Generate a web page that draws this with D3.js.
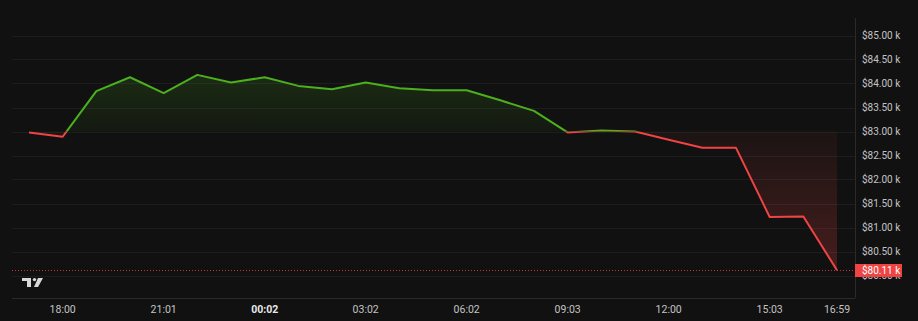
<!DOCTYPE html>
<html>
<head>
<meta charset="utf-8">
<script src="https://cdn.jsdelivr.net/npm/d3@7"></script>
<style>
  body { margin: 0; background: #111111; }
  svg { display: block; font-family: Roboto, "Noto Sans", sans-serif; }
</style>
</head>
<body>
<svg id="chart"></svg>
<script>
WIDTH = 918;
HEIGHT = 321;

// hourly points, 17:00 -> 16:59 next day
var times = ["17:00", "18:00", "19:00", "20:00", "21:01", "22:01", "23:01", "00:02",
             "01:02", "02:02", "03:02", "04:02", "05:02", "06:02", "07:02", "08:02",
             "09:03", "10:03", "11:03", "12:00", "13:00", "14:00", "15:03", "16:03", "16:59"];
var prices = [82.98, 82.89, 83.84, 84.13, 83.80, 84.18, 84.02, 84.13,
              83.95, 83.88, 84.02, 83.90, 83.86, 83.86, 83.65, 83.43,
              82.98, 83.02, 83.00, 82.83, 82.66, 82.66, 81.22, 81.23, 80.11];
var baseValue = 83.00;
var tickIndex = [1, 4, 7, 10, 13, 16, 19, 22, 24];
var priceTicks = [80.0, 80.5, 81.0, 81.5, 82.0, 82.5, 83.0, 83.5, 84.0, 84.5, 85.0];
var lastLabel = "$80.11 k";

var GREEN = "#4caf1e", RED = "#ef4444";
var PANE = { left: 12, right: 855, top: 18, bottom: 298 };

function buildChart() {
    var svg = d3.select("#chart").attr("width", WIDTH).attr("height", HEIGHT);
    svg.append("rect").attr("width", WIDTH).attr("height", HEIGHT).attr("fill", "#111111");

    var data = prices.map(function(p, i) { return { i: i, t: times[i], v: p }; });

    var x = d3.scaleLinear().domain([0, prices.length - 1]).range([29, 837]);
    var y = d3.scaleLinear().domain([80, 85]).range([275.5, 35.5]);
    var yBase = y(baseValue);

    var defs = svg.append("defs");
    var gG = defs.append("linearGradient").attr("id", "gFill")
        .attr("gradientUnits", "userSpaceOnUse")
        .attr("x1", 0).attr("x2", 0).attr("y1", y(d3.max(prices))).attr("y2", yBase);
    gG.append("stop").attr("offset", 0).attr("stop-color", GREEN).attr("stop-opacity", 0.17);
    gG.append("stop").attr("offset", 1).attr("stop-color", GREEN).attr("stop-opacity", 0.05);
    var rG = defs.append("linearGradient").attr("id", "rFill")
        .attr("gradientUnits", "userSpaceOnUse")
        .attr("x1", 0).attr("x2", 0).attr("y1", yBase).attr("y2", y(d3.min(prices)));
    rG.append("stop").attr("offset", 0).attr("stop-color", RED).attr("stop-opacity", 0.05);
    rG.append("stop").attr("offset", 1).attr("stop-color", RED).attr("stop-opacity", 0.24);

    defs.append("clipPath").attr("id", "above").append("rect")
        .attr("x", 0).attr("y", 0).attr("width", WIDTH).attr("height", yBase);
    defs.append("clipPath").attr("id", "below").append("rect")
        .attr("x", 0).attr("y", yBase).attr("width", WIDTH).attr("height", HEIGHT - yBase);

    // grid
    svg.append("g").selectAll("line")
        .data(priceTicks)
        .enter().append("line")
        .attr("x1", PANE.left).attr("x2", PANE.right)
        .attr("y1", function(d) { return Math.round(y(d)) + 0.5; })
        .attr("y2", function(d) { return Math.round(y(d)) + 0.5; })
        .attr("stroke", "#1d1d1d").attr("stroke-width", 1);

    // borders
    svg.append("line").attr("x1", PANE.right + 0.5).attr("x2", PANE.right + 0.5)
        .attr("y1", PANE.top).attr("y2", PANE.bottom).attr("stroke", "#2a2a2a");
    svg.append("line").attr("x1", PANE.left).attr("x2", PANE.right)
        .attr("y1", PANE.bottom + 0.5).attr("y2", PANE.bottom + 0.5).attr("stroke", "#2a2a2a");

    var area = d3.area()
        .x(function(d) { return x(d.i); })
        .y0(yBase)
        .y1(function(d) { return y(d.v); });
    var line = d3.line()
        .x(function(d) { return x(d.i); })
        .y(function(d) { return y(d.v); });

    svg.append("path").datum(data).attr("d", area)
        .attr("fill", "url(#gFill)").attr("clip-path", "url(#above)");
    svg.append("path").datum(data).attr("d", area)
        .attr("fill", "url(#rFill)").attr("clip-path", "url(#below)");

    // last price dotted line
    var yLast = Math.round(y(prices[prices.length - 1])) + 0.5;
    svg.append("line").attr("x1", PANE.left).attr("x2", PANE.right)
        .attr("y1", yLast).attr("y2", yLast)
        .attr("stroke", RED).attr("stroke-opacity", 0.8)
        .attr("stroke-dasharray", "1,2");

    svg.append("path").datum(data).attr("d", line)
        .attr("fill", "none").attr("stroke", GREEN).attr("stroke-width", 2)
        .attr("stroke-linejoin", "round").attr("clip-path", "url(#above)");
    svg.append("path").datum(data).attr("d", line)
        .attr("fill", "none").attr("stroke", RED).attr("stroke-width", 2)
        .attr("stroke-linejoin", "round").attr("clip-path", "url(#below)");

    // price scale
    svg.append("g").selectAll("text")
        .data(priceTicks)
        .enter().append("text")
        .attr("x", 862)
        .attr("y", function(d) { return y(d); })
        .attr("dy", "0.35em")
        .attr("font-size", 10)
        .attr("fill", "#c4c4c4")
        .text(function(d) { return "$" + d3.format(".2f")(d) + " k"; });

    svg.append("rect").attr("x", PANE.right).attr("y", yLast - 6.5)
        .attr("width", 47).attr("height", 13).attr("fill", RED);
    svg.append("text").attr("x", 862).attr("y", yLast).attr("dy", "0.35em")
        .attr("font-size", 10).attr("fill", "#ffffff").text(lastLabel);

    // time scale
    svg.append("g").selectAll("text")
        .data(tickIndex)
        .enter().append("text")
        .attr("x", function(d) { return x(d); })
        .attr("y", 309)
        .attr("dy", "0.35em")
        .attr("text-anchor", "middle")
        .attr("font-size", 10.5)
        .attr("font-weight", function(d) { return times[d] === "00:02" ? "bold" : "normal"; })
        .attr("fill", function(d) { return times[d] === "00:02" ? "#e8e8e8" : "#c4c4c4"; })
        .text(function(d) { return times[d]; });

    // logo
    var logo = svg.append("g").attr("fill", "#d8d8d8");
    logo.append("path").attr("d", "M22,278 h9 v9 h-4 v-6 h-5 z");
    logo.append("circle").attr("cx", 34.5).attr("cy", 279.6).attr("r", 1.7);
    logo.append("path").attr("d", "M38,278 h5 l-5,9 h-4 z");
}

buildChart();
</script>
</body>
</html>
